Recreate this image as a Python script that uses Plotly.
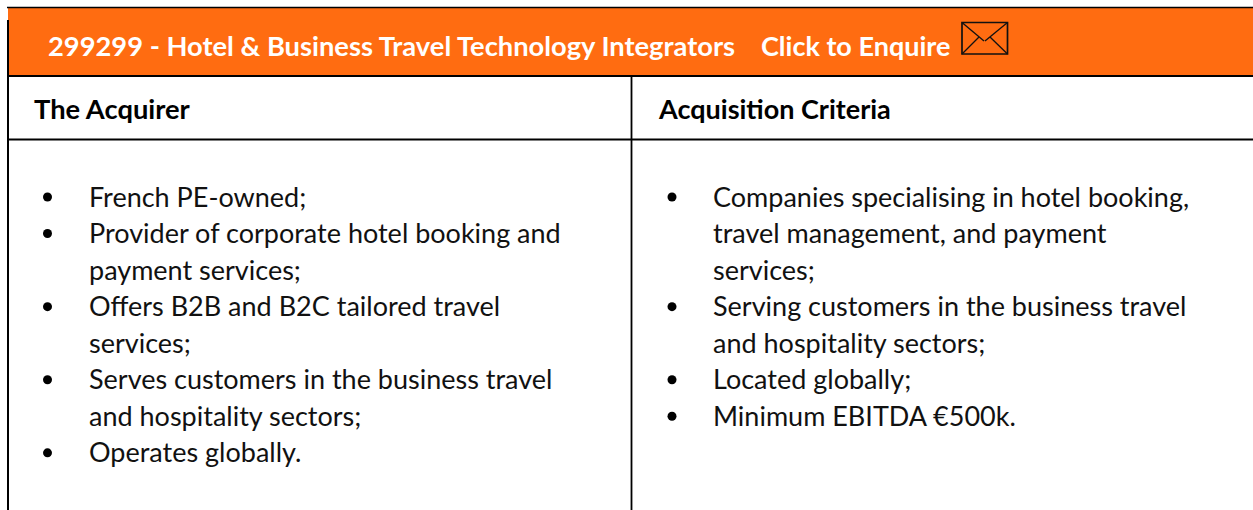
import plotly.graph_objects as go

W, H = 1253, 510
TITLE = "299299 - Hotel & Business Travel Technology Integrators"
ENQUIRE = "Click to Enquire"
HEADERS = ["The Acquirer", "Acquisition Criteria"]
LEFT_ITEMS = [
    ["French PE-owned;"],
    ["Provider of corporate hotel booking and", "payment services;"],
    ["Offers B2B and B2C tailored travel", "services;"],
    ["Serves customers in the business travel", "and hospitality sectors;"],
    ["Operates globally."],
]
RIGHT_ITEMS = [
    ["Companies specialising in hotel booking,", "travel management, and payment", "services;"],
    ["Serving customers in the business travel", "and hospitality sectors;"],
    ["Located globally;"],
    ["Minimum EBITDA €500k."],
]

ORANGE = "#FF6C11"
FONT = "Lato, Carlito, Calibri, sans-serif"
BODY = 27.0
PITCH = 36.55
TOP = 197


def line(x0, y0, x1, y1, w=2.0, c="#000000"):
    return dict(type="line", xref="x", yref="y", x0=x0, y0=y0, x1=x1, y1=y1,
                line=dict(color=c, width=w), layer="above")


shapes = [
    dict(type="rect", xref="x", yref="y", x0=8, y0=7.5, x1=W, y1=75.5,
         fillcolor=ORANGE, line=dict(width=0), layer="below"),
    line(7, 7.5, W, 7.5, 1.3),
    line(8, 20, 8, H, 2.0),
    line(8, 76, W, 76, 2.0),
    line(8, 139.5, W, 139.5, 2.0),
    line(631.5, 76, 631.5, H, 1.8),
    # envelope icon
    dict(type="rect", xref="x", yref="y", x0=962, y0=22.5, x1=1007.5, y1=54,
         line=dict(color="#111", width=1.7), layer="above"),
    line(962, 22.5, 984, 41, 1.3, "#111"),
    line(1007.5, 22.5, 985, 41, 1.3, "#111"),
    line(962, 54, 979, 37, 1.3, "#111"),
    line(1007.5, 54, 990, 37, 1.3, "#111"),
]

annotations = []


def text(x, y, s, size=BODY, color="#111111", bold=False):
    annotations.append(dict(x=x, y=y, xref="x", yref="y", xanchor="left", yanchor="middle",
                            showarrow=False, align="left",
                            text=f"<b>{s}</b>" if bold else s,
                            font=dict(family=FONT, size=size, color=color)))


text(46, 45.5, TITLE.replace("&", "&amp;"), 27.3, "#FFFFFF", True)
text(759, 45.5, ENQUIRE, 27.0, "#FFFFFF", True)
text(32, 108.5, HEADERS[0], 27.3, "#000000", True)
text(656, 108.5, HEADERS[1], 27.0, "#000000", True)


def column(items, x_text, x_bullet):
    xs, ys = [], []
    row = 0
    for item in items:
        xs.append(x_bullet)
        ys.append(TOP + row * PITCH)
        for ln in item:
            text(x_text, TOP - 1 + row * PITCH, ln)
            row += 1
    return xs, ys


fig = go.Figure()
for items, xt, xb in [(LEFT_ITEMS, 87, 47.5), (RIGHT_ITEMS, 711, 672)]:
    bx, by = column(items, xt, xb)
    fig.add_trace(go.Scatter(x=bx, y=by, mode="markers", hoverinfo="skip",
                             marker=dict(color="#000000", size=9, line=dict(width=0))))

fig.update_layout(
    width=W, height=H, margin=dict(l=0, r=0, t=0, b=0), showlegend=False,
    paper_bgcolor="#FFFFFF", plot_bgcolor="#FFFFFF",
    xaxis=dict(range=[0, W], visible=False, fixedrange=True),
    yaxis=dict(range=[H, 0], visible=False, fixedrange=True),
    shapes=shapes, annotations=annotations,
)
fig.write_html("out.html", config=dict(displayModeBar=False),
               post_script="document.body.style.margin='0';document.body.style.overflow='hidden';")
